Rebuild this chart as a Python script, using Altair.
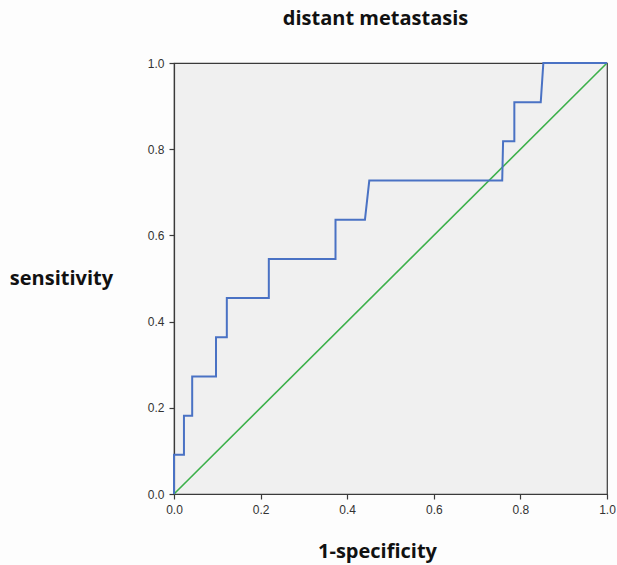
import altair as alt
import pandas as pd

# ROC curve points (1-specificity, sensitivity)
fpr = [0.0, 0.0, 0.023, 0.023, 0.042, 0.042, 0.097, 0.097, 0.122, 0.122,
       0.219, 0.219, 0.373, 0.373, 0.441, 0.451, 0.758, 0.760, 0.786, 0.786,
       0.847, 0.853, 1.0]
tpr = [0.0, 0.0909, 0.0909, 0.1818, 0.1818, 0.2727, 0.2727, 0.3636, 0.3636, 0.4545,
       0.4545, 0.5455, 0.5455, 0.6364, 0.6364, 0.7273, 0.7273, 0.8182, 0.8182, 0.9091,
       0.9091, 1.0, 1.0]
ref_x = [0.0, 1.0]
ref_y = [0.0, 1.0]

roc = pd.DataFrame({"x": fpr, "y": tpr, "o": list(range(len(fpr)))})
diag = pd.DataFrame({"x": ref_x, "y": ref_y, "o": [0, 1]})

FONT = "Open Sans"
LFONT = "Liberation Sans"
TSIZE = 20

xenc = alt.X("x:Q", scale=alt.Scale(domain=[0, 1], nice=False),
             axis=alt.Axis(title="1-specificity", values=[0, 0.2, 0.4, 0.6, 0.8, 1.0],
                           format=".1f", titleFontSize=TSIZE, titleFont=FONT, titleFontWeight="bold",
                           titleColor="#111", titleX=203, titleY=57, titleBaseline="middle",
                           titleAlign="center"))
yenc = alt.Y("y:Q", scale=alt.Scale(domain=[0, 1], nice=False),
             axis=alt.Axis(title="sensitivity", values=[0, 0.2, 0.4, 0.6, 0.8, 1.0],
                           format=".1f", titleFontSize=TSIZE, titleFont=FONT, titleFontWeight="bold",
                           titleColor="#111", titleAngle=0, titleX=-113, titleY=215,
                           titleBaseline="middle", titleAlign="center"))

line_roc = alt.Chart(roc).mark_line(color="#4a72c4", strokeWidth=2).encode(
    x=xenc, y=yenc, order="o:Q")
line_diag = alt.Chart(diag).mark_line(color="#3cb04a", strokeWidth=1.6).encode(
    x="x:Q", y="y:Q", order="o:Q")

chart = (line_diag + line_roc).properties(
    width=433, height=431,
    title=alt.TitleParams("distant metastasis", fontSize=TSIZE, font=FONT, fontWeight="bold",
                          color="#111", anchor="middle", dx=-15, offset=28),
    autosize=alt.AutoSizeParams(type="none"),
    padding={"left": 174, "top": 63, "right": 10, "bottom": 71},
    background="#fdfdfd",
).configure_view(
    fill="#f0f0f0", stroke="#3a3a3a", strokeWidth=1.2
).configure_axis(
    grid=False, domainColor="#3a3a3a", domainWidth=1.2, tickColor="#3a3a3a",
    tickSize=5, tickWidth=1.2, labelFont=LFONT, labelFontSize=12, labelColor="#333",
    labelPadding=5, labelFlush=False, labelOverlap=False
)

chart.save("out.html", embed_options={"renderer": "svg", "actions": False})
